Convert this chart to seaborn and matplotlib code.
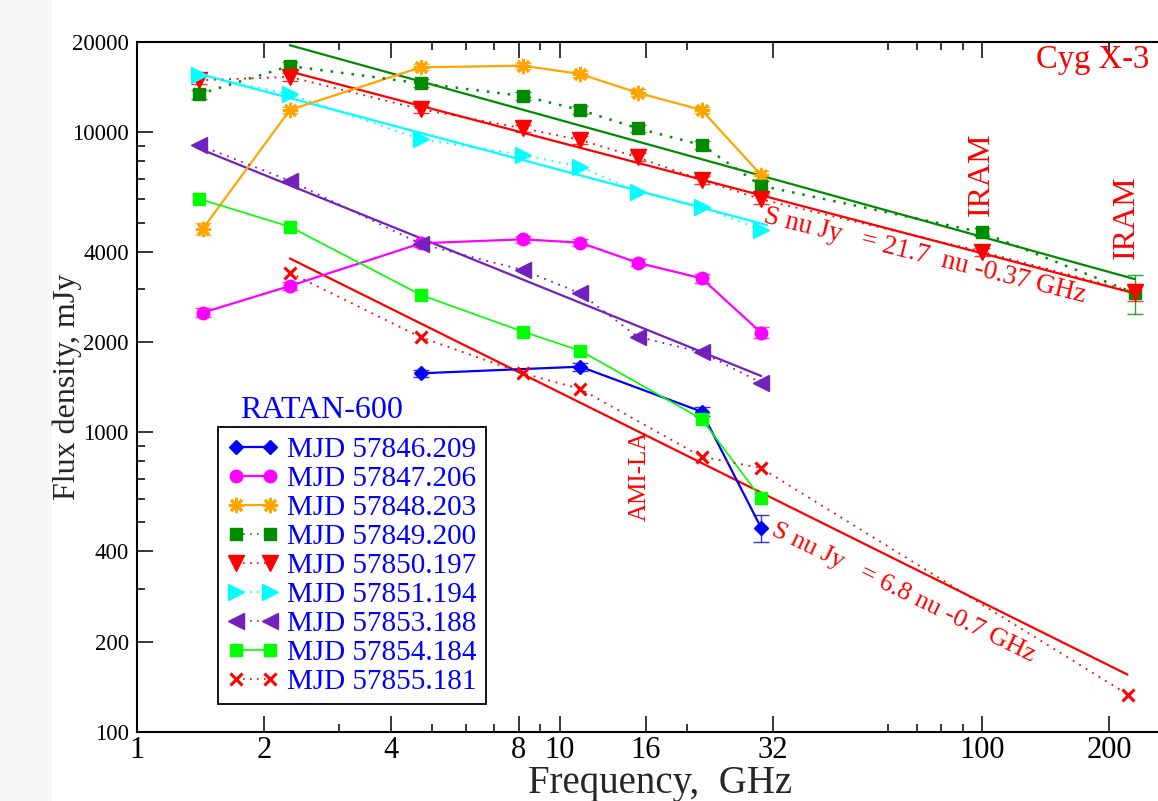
import numpy as np
import pandas as pd
import matplotlib
matplotlib.use("Agg")
import matplotlib.pyplot as plt
import seaborn as sns
from matplotlib.lines import Line2D
from matplotlib.patches import Rectangle
from matplotlib.ticker import FixedLocator, FixedFormatter, NullFormatter

sns.set_style("ticks")
plt.rcParams['font.family'] = ['Liberation Serif', 'DejaVu Serif']
plt.rcParams['axes.edgecolor'] = 'black'
plt.rcParams['xtick.color'] = 'black'
plt.rcParams['ytick.color'] = 'black'
plt.rcParams['text.color'] = 'black'

# ---------------- data (frequency GHz, flux density mJy) ----------------
labels = ["MJD 57846.209", "MJD 57847.206", "MJD 57848.203", "MJD 57849.200",
          "MJD 57850.197", "MJD 57851.194", "MJD 57853.188", "MJD 57854.184",
          "MJD 57855.181"]

blue_f = [4.7, 11.2, 21.7, 30.0]
blue_s = [1571, 1653, 1170, 480]
blue_e = [45, 50, 40, 50]

magenta_f = [1.43, 2.3, 4.7, 8.2, 11.2, 15.3, 21.7, 30.0]
magenta_s = [2502, 3072, 4264, 4396, 4283, 3673, 3258, 2146]
magenta_e = [90, 90, 120, 120, 120, 100, 110, 90]

orange_f = [1.43, 2.3, 4.7, 8.2, 11.2, 15.3, 21.7, 30.0]
orange_s = [4757, 11866, 16470, 16672, 15643, 13548, 11866, 7202]
orange_e = [220, 300, 400, 400, 400, 350, 300, 250]

green_f = [1.4, 2.3, 4.7, 8.2, 11.2, 15.3, 21.7, 30.0, 100.0, 230.0]
green_s = [13385, 16634, 14565, 13210, 11866, 10309, 9070, 6634, 4638, 2905]
green_e = [450, 500, 450, 400, 350, 300, 300, 250, 140, 430]

red_f = [1.4, 2.3, 4.7, 8.2, 11.2, 15.3, 21.7, 30.0, 100.0, 230.0]
red_s = [14900, 15300, 11930, 10309, 9423, 8254, 6931, 5975, 4000, 2930]
red_e = [450, 450, 350, 300, 300, 250, 220, 200, 120, 190]

cyan_f = [1.4, 2.3, 4.7, 8.2, 11.2, 15.3, 21.7, 30.0]
cyan_s = [15524, 13385, 9474, 8401, 7676, 6336, 5646, 4721]

purple_f = [1.4, 2.3, 4.7, 8.2, 11.2, 15.3, 21.7, 30.0]
purple_s = [9070, 6894, 4241, 3472, 2904, 2081, 1846, 1462]

lime_f = [1.4, 2.3, 4.7, 8.2, 11.2, 21.7, 30.0]
lime_s = [6003, 4842, 2867, 2162, 1869, 1106, 601]

cross_f = [2.3, 4.7, 8.2, 11.2, 21.7, 30.0, 222.0]
cross_s = [3401, 2071, 1571, 1393, 828, 759, 133]

# power-law fits: S[mJy] = A * nu^alpha, drawn between nu_min and nu_max
fit_A = [27000, 21700, 6800, 17770, 10700]
fit_alpha = [-0.39, -0.37, -0.70, -0.375, -0.57]
fit_numin = [2.3, 2.3, 2.3, 1.4, 1.4]
fit_numax = [230.0, 230.0, 221.0, 31.0, 30.0]
fit_colors = ['#008b00', '#ff0000', '#ff0000', '#00ffff', '#7221bc']

xticks = [1, 2, 4, 8, 10, 16, 32, 100, 200]
xticklabels = ['1', '2', '4', '8', '10', '16', '32', '100', '200']
xminor = [3, 5, 6, 7, 9, 20, 60, 70, 80, 90]
yticks = [100, 200, 400, 1000, 2000, 4000, 10000, 20000]
yticklabels = ['100', '200', '400', '1000', '2000', '4000', '10000', '20000']
yminor = [300, 500, 600, 700, 800, 900, 3000, 5000, 6000, 7000, 8000, 9000]

# ---------------- figure ----------------
W, H = 1158, 801
fig = plt.figure(figsize=(W / 100, H / 100), dpi=100)
fig.patches.append(Rectangle((0, 0), 52 / W, 1, transform=fig.transFigure,
                             facecolor='#f7f8fa', edgecolor='none', zorder=-10))
x0_px, x1_px = 137, 137 + 422.5 * np.log10(300)
ax = fig.add_axes([x0_px / W, (H - 732) / H, (x1_px - x0_px) / W, 690 / H])
ax.set_xscale('log')
ax.set_yscale('log')

dot = (0, (1, 3.2))

series = [
    dict(f=blue_f, s=blue_s, e=blue_e, c='#0000ff', m='D', ms=7.5, ls='-', lw=1.6, mew=1),
    dict(f=magenta_f, s=magenta_s, e=magenta_e, c='#ff00ff', m='o', ms=9, ls='-', lw=1.6, mew=1),
    dict(f=orange_f, s=orange_s, e=orange_e, c='#ffa500', m=(8, 2, 0), ms=11, ls='-', lw=1.6, mew=2),
    dict(f=green_f, s=green_s, e=green_e, c='#008b00', m='s', ms=9, ls=dot, lw=1.8, mew=1),
    dict(f=red_f, s=red_s, e=red_e, c='#ff0000', m='v', ms=12, ls=dot, lw=1.3, mew=1),
    dict(f=cyan_f, s=cyan_s, e=None, c='#00ffff', m='>', ms=12, ls=dot, lw=1.3, mew=1),
    dict(f=purple_f, s=purple_s, e=None, c='#7221bc', m='<', ms=12, ls=dot, lw=1.3, mew=1),
    dict(f=lime_f, s=lime_s, e=None, c='#00ff00', m='s', ms=8.5, ls='-', lw=1.2, mew=1),
    dict(f=cross_f, s=cross_s, e=None, c='#ff0000', m='x', ms=9, ls=dot, lw=1.3, mew=2.2),
]

# fit lines
for A, al, n0, n1, col in zip(fit_A, fit_alpha, fit_numin, fit_numax, fit_colors):
    nu = np.array([n0, n1])
    sns.lineplot(x=nu, y=A * nu ** al, color=col, lw=1.6, ax=ax,
                 estimator=None, sort=False, legend=False, zorder=2)

handles = []
for i, sd in enumerate(series):
    df = pd.DataFrame({'nu': sd['f'], 'S': sd['s']})
    if sd['e'] is not None:
        ax.errorbar(sd['f'], sd['s'], yerr=sd['e'], fmt='none', ecolor=sd['c'],
                    elinewidth=1.0, capsize=5.5, capthick=1.0, alpha=0.8, zorder=3)
    sns.lineplot(data=df, x='nu', y='S', ax=ax, color=sd['c'], marker=sd['m'],
                 markersize=sd['ms'], markeredgecolor=sd['c'], markerfacecolor=sd['c'],
                 markeredgewidth=sd['mew'], linestyle=sd['ls'], lw=sd['lw'],
                 estimator=None, sort=False, legend=False, zorder=4)
    handles.append(Line2D([], [], color=sd['c'], marker=sd['m'], markersize=sd['ms'],
                          markeredgecolor=sd['c'], markerfacecolor=sd['c'],
                          markeredgewidth=sd['mew'], linestyle=sd['ls'],
                          lw=sd['lw'] if sd['ls'] == '-' else 1.2))

ax.set_xlim(1, 300)
ax.set_ylim(100, 20000)
ax.xaxis.set_major_locator(FixedLocator(xticks))
ax.xaxis.set_major_formatter(FixedFormatter(xticklabels))
ax.xaxis.set_minor_locator(FixedLocator(xminor))
ax.xaxis.set_minor_formatter(NullFormatter())
ax.yaxis.set_major_locator(FixedLocator(yticks))
ax.yaxis.set_major_formatter(FixedFormatter(yticklabels))
ax.yaxis.set_minor_locator(FixedLocator(yminor))
ax.yaxis.set_minor_formatter(NullFormatter())
ax.tick_params(which='both', direction='in', top=True, right=True, width=1.1)
ax.tick_params(which='major', length=11.5)
ax.tick_params(which='minor', length=5.8)
ax.tick_params(axis='x', which='major', labelsize=22, pad=3)
ax.tick_params(axis='y', which='major', labelsize=16.5, pad=6)
for sp in ax.spines.values():
    sp.set_linewidth(1.5)
    sp.set_color('black')

ax.set_xlabel("Frequency,  GHz", fontsize=28, labelpad=0)
ax.set_ylabel("Flux density, mJy", fontsize=23)
ax.yaxis.set_label_coords(-0.053, 0.5)

leg = ax.legend(handles, labels, loc='upper left', bbox_to_anchor=(0.0774, 0.442),
                borderaxespad=0, numpoints=2, fontsize=21, handlelength=1.77,
                handletextpad=0.29, borderpad=0.32, labelspacing=0.09,
                frameon=True, fancybox=False, framealpha=1, edgecolor='black')
leg.get_frame().set_linewidth(1.3)
for t in leg.get_texts():
    t.set_color('#0000ff')

# annotations
red = '#ff0000'
ax.text(2.727, 1115, "RATAN-600", color='#0000ff', fontsize=23, ha='center', va='baseline')
ax.text(134.5, 16380, "Cyg X-3", color=red, fontsize=23.5, ha='left', va='baseline')
ax.text(99.5, 7257, "IRAM", color=red, fontsize=23, rotation=90, ha='center', va='center')
ax.text(220, 5216, "IRAM", color=red, fontsize=23, rotation=90, ha='center', va='center')
ax.text(15.5, 714, "AMI-LA", color=red, fontsize=18, rotation=90, ha='center', va='center')
ax.text(30.3, 5021, "S nu Jy   = 21.7  nu -0.37 GHz", color=red, fontsize=19.5,
        rotation=-14, rotation_mode='anchor', ha='left', va='baseline')
ax.text(31.5, 457, "S nu Jy   = 6.8 nu -0.7 GHz", color=red, fontsize=19,
        rotation=-26, rotation_mode='anchor', ha='left', va='baseline')

fig.savefig("out.png", dpi=100)
